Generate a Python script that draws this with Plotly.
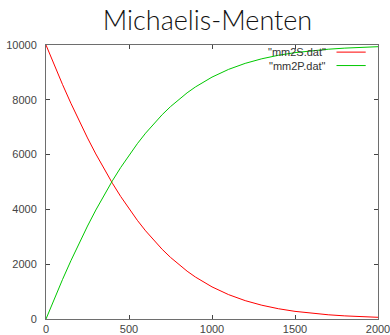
import plotly.graph_objects as go

# Substrate (S) and product (P) concentrations over time
t = [0, 50, 100, 150, 200, 250, 300, 350, 400, 450, 500, 550, 600, 650, 700,
     750, 800, 850, 900, 950, 1000, 1100, 1200, 1300, 1400, 1500, 1600, 1700,
     1800, 1900, 2000]
substrate = [10000, 9262, 8552, 7873, 7225, 6608, 6024, 5473, 4955, 4471, 4020,
             3603, 3218, 2865, 2542, 2249, 1984, 1746, 1532, 1341, 1172, 889,
             670, 503, 375, 279, 208, 154, 114, 84, 62]
product = [0, 738, 1448, 2127, 2775, 3392, 3976, 4527, 5045, 5529, 5980, 6397,
           6782, 7135, 7458, 7751, 8016, 8254, 8468, 8659, 8828, 9111, 9330,
           9497, 9625, 9721, 9792, 9846, 9886, 9916, 9938]

series_names = ['"mm2S.dat"', '"mm2P.dat"']
series_colors = ["#ff0000", "#00c800"]

x_ticks = [0, 500, 1000, 1500, 2000]
y_ticks = [0, 2000, 4000, 6000, 8000, 10000]

fig = go.Figure()
for name, ys, col in zip(series_names, [substrate, product], series_colors):
    fig.add_trace(go.Scatter(x=t, y=ys, mode="lines", name=name,
                             line=dict(color=col, width=1), showlegend=False))

axis_common = dict(
    showgrid=False, zeroline=False, showline=True, linecolor="#6e6e6e",
    linewidth=1, mirror="ticks", ticks="inside", ticklen=4, tickcolor="#444",
    automargin=False, ticklabeloverflow="allow",
    tickfont=dict(family="Liberation Sans", size=11, color="#444"),
)
fig.update_xaxes(range=[0, 2000], tickvals=x_ticks,
                 ticktext=[str(v) for v in x_ticks], **axis_common)
fig.update_yaxes(range=[0, 10000], tickvals=y_ticks,
                 ticktext=[str(v) for v in y_ticks], ticklabelstandoff=6,
                 **axis_common)

# gnuplot-style key: label text on the left, line sample on the right
key_rows = [0.974, 0.925]
for name, col, ky in zip(series_names, series_colors, key_rows):
    fig.add_annotation(x=0.85, y=ky, xref="paper", yref="paper", text=name,
                       showarrow=False, xanchor="right", yanchor="middle",
                       font=dict(family="Liberation Sans", size=11, color="#333"))
    fig.add_shape(type="line", xref="paper", yref="paper", x0=0.875, x1=0.963,
                  y0=ky, y1=ky, line=dict(color=col, width=1))

fig.update_layout(
    width=390, height=335,
    margin=dict(l=46, r=12, t=45, b=16, autoexpand=False),
    paper_bgcolor="white", plot_bgcolor="white",
    title=dict(text="Michaelis-Menten", x=0.532, xanchor="center",
               y=1 - 21 / 335, yanchor="middle", yref="container",
               font=dict(family="Lato", size=27, color="#111", weight=300)),
)

fig.write_html("out.html")
